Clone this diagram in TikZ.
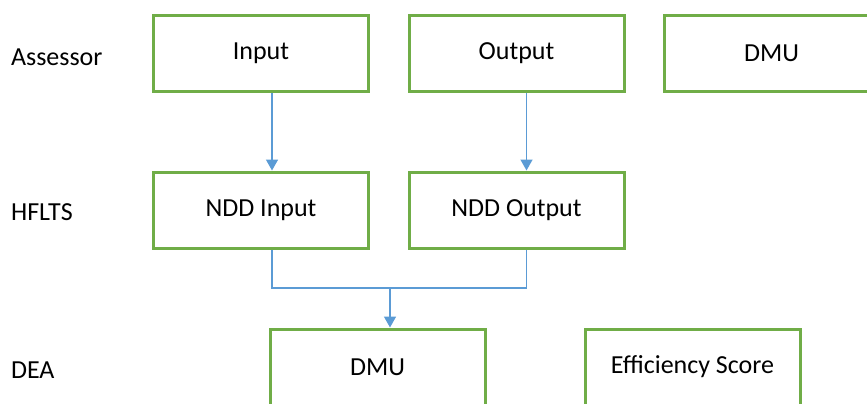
\documentclass[tikz,border=0pt]{standalone}
\usepackage{fontspec}
\setmainfont{Carlito}
\usetikzlibrary{arrows.meta}
\definecolor{boxgreen}{RGB}{112,173,71}
\definecolor{lineblue}{RGB}{91,155,213}

\begin{document}
\begin{tikzpicture}[x=0.5pt,y=-0.5pt,
  font=\fontsize{13}{15.5}\selectfont,
  stage/.style={draw=boxgreen,line width=1.5pt,minimum width=107.5pt,minimum height=38pt,inner sep=0pt},
  flow/.style={draw=lineblue,line width=0.75pt,-{Triangle[length=5.5pt,width=6pt]}}]
\useasboundingbox (0,0) rectangle (867,403) ;
% row labels
\node[anchor=west] (assessor) at (4,57) {Assessor} ;
\node[anchor=west] (hflts) at (4,212) {HFLTS} ;
\node[anchor=west] (dea) at (4,370) {DEA} ;
% top row
\node[stage] (input) at (261,53) {Input} ;
\node[stage] (output) at (516.5,53) {Output} ;
\node[stage] (dmutop) at (771.5,53) {DMU} ;
% middle row
\node[stage] (nddin) at (261,210) {NDD Input} ;
\node[stage] (nddout) at (516.5,210) {NDD Output} ;
% bottom row
\node[stage] (dmu) at (377.5,367) {DMU} ;
\node[stage] (score) at (692.5,367) {Efficiency Score} ;
% connectors
\draw[flow] ([xshift=5.5pt]input.south) -- ([xshift=5.5pt]nddin.north) ;
\draw[flow] ([xshift=5pt]output.south) -- ([xshift=5pt]nddout.north) ;
\coordinate (merge) at (390,288) ;
\draw[draw=lineblue,line width=0.75pt] ([xshift=5.5pt]nddin.south) |- (merge) -| ([xshift=5pt]nddout.south) ;
\draw[flow] (merge) -- ([xshift=6.25pt]dmu.north) ;
\end{tikzpicture}
\end{document}
